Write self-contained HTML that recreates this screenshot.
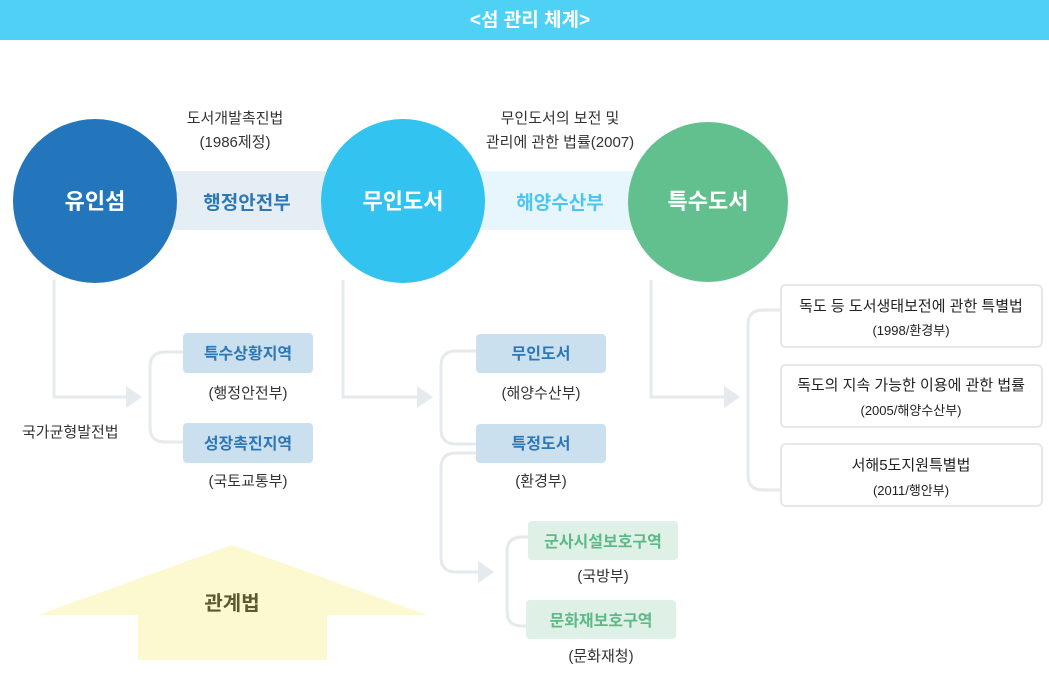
<!DOCTYPE html>
<html><head><meta charset="utf-8"><style>
html,body{margin:0;padding:0;background:#fff;}
body{width:1049px;height:677px;overflow:hidden;}
svg text{font-family:"Liberation Sans","Noto Sans CJK KR",sans-serif;}
</style></head><body>
<svg width="1049" height="677" viewBox="0 0 1049 677" xmlns="http://www.w3.org/2000/svg">
<rect x="0" y="0" width="1049" height="40" fill="#4fd0f5"/>
<text x="530" y="26" font-size="19" fill="#fff" text-anchor="middle" font-weight="bold">&lt;섬 관리 체계&gt;</text>

<rect x="170" y="171" width="160" height="59" fill="#e4eef4"/>
<rect x="478" y="171" width="160" height="59" fill="#e7f6fc"/>

<g fill="none" stroke="#e4eaee" stroke-width="3">
<path d="M54 280 V397 H128"/>
<path d="M343 280 V397 H418"/>
<path d="M651 280 V397 H726"/>
<path d="M183 352 H165 Q150 352 150 367 V427 Q150 442 165 442 H183"/>
<path d="M476 351 H456 Q441 351 441 366 V429 Q441 444 456 444 H476"/>
<path d="M476 453 H456 Q441 453 441 468 V557 Q441 572 456 572 H480"/>
<path d="M528 537 H522 Q507 537 507 552 V611 Q507 626 522 626 H526"/>
<path d="M781 310 H763 Q748 310 748 325 V475 Q748 490 763 490 H781"/>
</g>
<g fill="#e4eaee">
<polygon points="126,386 142,397 126,408"/>
<polygon points="417,386 433,397 417,408"/>
<polygon points="724,386 740,397 724,408"/>
<polygon points="478,561 494,572 478,583"/>
</g>

<circle cx="95" cy="201" r="82" fill="#2476bc"/>
<circle cx="403" cy="201" r="82" fill="#33c3f0"/>
<circle cx="708" cy="202" r="80" fill="#62c08e"/>
<g font-size="22" font-weight="bold" fill="#fff" text-anchor="middle">
<text x="95" y="209">유인섬</text>
<text x="403" y="209">무인도서</text>
<text x="708" y="209">특수도서</text>
</g>
<text x="247" y="209" font-size="19" font-weight="bold" fill="#2f78b6" text-anchor="middle">행정안전부</text>
<text x="560" y="209" font-size="19" font-weight="bold" fill="#4cc6ef" text-anchor="middle">해양수산부</text>

<g font-size="15" fill="#333" text-anchor="middle">
<text x="235" y="123">도서개발촉진법</text>
<text x="235" y="147">(1986제정)</text>
<text x="560" y="123">무인도서의 보전 및</text>
<text x="560" y="147">관리에 관한 법률(2007)</text>
</g>

<rect x="183" y="333" width="130" height="40" rx="4" fill="#cbe0ef"/>
<rect x="183" y="423" width="130" height="40" rx="4" fill="#cbe0ef"/>
<rect x="476" y="334" width="130" height="39" rx="4" fill="#cbe0ef"/>
<rect x="476" y="424" width="130" height="39" rx="4" fill="#cbe0ef"/>
<rect x="528" y="521" width="150" height="39" rx="4" fill="#dff0e6"/>
<rect x="526" y="600" width="150" height="39" rx="4" fill="#dff0e6"/>
<g font-size="16" font-weight="bold" fill="#2f78b6" text-anchor="middle">
<text x="248" y="359">특수상황지역</text>
<text x="248" y="449">성장촉진지역</text>
<text x="541" y="359">무인도서</text>
<text x="541" y="449">특정도서</text>
</g>
<g font-size="16" font-weight="bold" fill="#5cba87" text-anchor="middle">
<text x="603" y="547">군사시설보호구역</text>
<text x="601" y="626">문화재보호구역</text>
</g>
<g font-size="15" fill="#333" text-anchor="middle">
<text x="248" y="398">(행정안전부)</text>
<text x="248" y="486">(국토교통부)</text>
<text x="541" y="398">(해양수산부)</text>
<text x="541" y="486">(환경부)</text>
<text x="603" y="581">(국방부)</text>
<text x="601" y="661">(문화재청)</text>
</g>
<text x="22" y="437" font-size="15" fill="#333">국가균형발전법</text>

<g fill="#fff" stroke="#e5e8ea" stroke-width="2">
<rect x="781" y="285" width="261" height="62" rx="5"/>
<rect x="781" y="365" width="261" height="62" rx="5"/>
<rect x="781" y="444" width="261" height="62" rx="5"/>
</g>
<g fill="#222" text-anchor="middle">
<text x="911" y="311" font-size="15">독도 등 도서생태보전에 관한 특별법</text>
<text x="911" y="335" font-size="13">(1998/환경부)</text>
<text x="911" y="390" font-size="15">독도의 지속 가능한 이용에 관한 법률</text>
<text x="911" y="415" font-size="13">(2005/해양수산부)</text>
<text x="911" y="470" font-size="15">서해5도지원특별법</text>
<text x="911" y="495" font-size="13">(2011/행안부)</text>
</g>

<polygon points="232,545 427,615 327,615 327,660 138,660 138,615 38,615" fill="#fcf8cf"/>
<text x="232" y="610" font-size="20" font-weight="bold" fill="#5a5a2e" text-anchor="middle">관계법</text>
</svg>
</body></html>
